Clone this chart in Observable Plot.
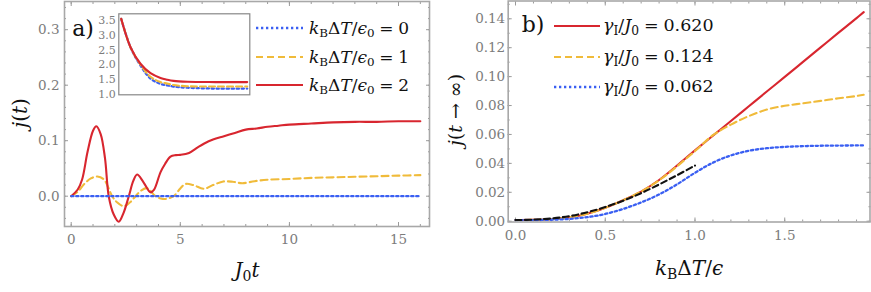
<!DOCTYPE html>
<html><head><meta charset="utf-8">
<script src="https://cdn.jsdelivr.net/npm/d3@7"></script>
<script src="https://cdn.jsdelivr.net/npm/@observablehq/plot@0.6"></script>
<style>
body{margin:0;background:#fff;}
#wrap{position:relative;width:871px;height:292px;overflow:hidden;background:#fff;font-family:"DejaVu Serif",serif;}
#wrap svg{position:absolute;}
.txt{position:absolute;white-space:nowrap;color:#111;line-height:1;}
.c{transform:translate(-50%,-50%);}
.l{transform:translateY(-50%);}
.rot{transform:translate(-50%,-50%) rotate(-90deg);}
i{font-style:italic;}
sub{font-size:0.7em;vertical-align:-0.28em;line-height:0;font-style:normal;}
.eq{margin:0 0.28em;}
</style></head><body><div id="wrap"></div>
<script>
// ---------- Panel a: j(t) vs J0 t ----------
const tRed = [0,0.3,0.5,0.75,1.0,1.15,1.35,1.55,1.72,1.95,2.18,2.4,2.64,2.85,3.02,3.3,3.63,3.8,4.09,4.3,4.55,4.8,5.0,5.4,5.8,6.1,6.5,7.0,7.5,8.0,8.5,9.0,9.5,10.0,11,12,13,14,15,16];
const jRed = [0,0.012,0.030,0.080,0.118,0.126,0.112,0.068,0,-0.033,-0.046,-0.030,0,0.028,0.039,0.026,0.007,0.012,0.043,0.058,0.0715,0.074,0.0745,0.078,0.088,0.095,0.102,0.108,0.114,0.120,0.122,0.125,0.127,0.129,0.131,0.133,0.134,0.134,0.135,0.135];
const tYel = [0,0.3,0.6,0.9,1.2,1.5,1.88,2.1,2.41,2.7,2.95,3.2,3.48,3.86,4.1,4.32,4.69,5.0,5.24,5.6,6.08,6.5,6.97,7.4,7.84,8.4,8.98,10,11,12,13,14,15,16];
const jYel = [0,0.008,0.022,0.032,0.0355,0.030,0,-0.011,-0.018,-0.011,0,0.010,0.0144,0,-0.004,-0.005,0,0.014,0.022,0.020,0.0133,0.020,0.0265,0.026,0.0234,0.027,0.0296,0.031,0.033,0.034,0.035,0.036,0.037,0.038];
const tBlue = [0,16];
const jBlue = [0,0];
const aXTicks = [0,5,10,15];
const aXMinor = [0,1,2,3,4,5,6,7,8,9,10,11,12,13,14,15,16];
const aYTicks = [0,0.1,0.2,0.3];
const aYMinor = [-0.04,-0.02,0,0.02,0.04,0.06,0.08,0.1,0.12,0.14,0.16,0.18,0.2,0.22,0.24,0.26,0.28,0.3,0.32,0.34];

// inset (panel a)
const tInset = [0,1.18,2.45,3.72,4.99,5.84,6.64,8.4,12,16];
const insRed = [3.56,2.60,2.04,1.72,1.56,1.50,1.46,1.43,1.42,1.42];
const insYel = [3.56,2.60,2.01,1.60,1.42,1.37,1.32,1.28,1.27,1.27];
const insBlue = [3.56,2.60,1.98,1.54,1.36,1.31,1.27,1.23,1.20,1.20];
const insYTicks = [1.0,1.5,2.0,2.5,3.0,3.5];

const legendA = ["0","1","2"];

// ---------- Panel b: j(t->inf) vs kB dT / eps ----------
const xB = [0,0.1,0.2,0.3,0.4,0.5,0.6,0.7,0.8,0.9,1.0,1.1,1.2,1.3,1.4,1.5,1.6,1.7,1.8,1.9,1.94];
const bRed = [0.0008,0.0009,0.0014,0.0027,0.0052,0.0093,0.0145,0.0205,0.0285,0.0385,0.049,0.0592,0.0693,0.0795,0.0897,0.0998,0.1100,0.1202,0.1304,0.1405,0.1446];
const bYel = [0.0008,0.0009,0.0014,0.0027,0.0052,0.0093,0.0145,0.0205,0.0283,0.038,0.0485,0.0595,0.0668,0.0727,0.0772,0.0798,0.0815,0.0832,0.0850,0.0866,0.0874];
const bBlue = [0.0008,0.0008,0.0010,0.0016,0.0028,0.0050,0.0085,0.0130,0.0185,0.0255,0.0335,0.0405,0.0455,0.0487,0.0505,0.0514,0.0519,0.0522,0.0523,0.0524,0.0524];
const xBlack = [0,0.1,0.2,0.3,0.4,0.5,0.6,0.7,0.8,0.9,1.0];
const bBlack = [0.0008,0.0011,0.0019,0.0035,0.0062,0.0098,0.0142,0.0194,0.0254,0.0318,0.0385];
const bXTicks = [0,0.5,1.0,1.5];
const bXMinor = [0,0.1,0.2,0.3,0.4,0.5,0.6,0.7,0.8,0.9,1.0,1.1,1.2,1.3,1.4,1.5,1.6,1.7,1.8,1.9];
const bYTicks = [0,0.02,0.04,0.06,0.08,0.10,0.12,0.14];
const bYMinor = [0,0.01,0.02,0.03,0.04,0.05,0.06,0.07,0.08,0.09,0.10,0.11,0.12,0.13,0.14,0.15];
const legendB = ["0.620","0.124","0.062"];

// ---------- styles ----------
const RED = "#d8262f", YEL = "#f0bb3a", BLUE = "#3a5ff2", BLACK = "#111";
const FRAME = "#a8a8a8", TICKC = "#7c7c7c";
const FONT = "DejaVu Serif";
const sty = {
  red:  {stroke:RED, strokeWidth:2.1},
  yel:  {stroke:YEL, strokeWidth:2.1, strokeDasharray:"7,4"},
  blue: {stroke:BLUE, strokeWidth:2.3, strokeDasharray:"2.3,2.7"},
  black:{stroke:BLACK, strokeWidth:2.1, strokeDasharray:"6,3.5"}
};
const rows = (xs, ys) => xs.map((x,i)=>({x, y:ys[i]}));
const wrap = document.getElementById("wrap");

function place(svg, left, top){ svg.style.left = left+"px"; svg.style.top = top+"px"; wrap.appendChild(svg); }
function inward(k, anchor, ticks, size){
  const ax = k === "x" ? Plot.axisX : Plot.axisY;
  return ax({anchor, ticks, tickSize:-size, tickFormat:()=>"", label:null, stroke:"#9a9a9a"});
}

// Panel a
const pa = Plot.plot({
  width:435, height:292, marginLeft:64, marginRight:6, marginTop:1, marginBottom:66,
  x:{domain:[-0.307,16.42]}, y:{domain:[-0.0546,0.3508]},
  style:{fontFamily:FONT, fontSize:"13.5px", color:TICKC, background:"transparent", overflow:"visible"},
  marks:[
    Plot.axisX({ticks:aXTicks, tickSize:0, tickPadding:8, label:null, tickFormat:d3.format("d")}),
    Plot.axisY({ticks:aYTicks, tickSize:0, tickPadding:5, label:null, tickFormat:d3.format(".1f")}),
    inward("x","bottom",aXMinor,2), inward("x","top",aXMinor,2),
    inward("x","bottom",aXTicks,4), inward("x","top",aXTicks,4),
    inward("y","left",aYMinor,2), inward("y","right",aYMinor,2),
    inward("y","left",aYTicks,4), inward("y","right",aYTicks,4),
    Plot.line(rows(tYel,jYel), {x:"x", y:"y", curve:"catmull-rom", ...sty.yel}),
    Plot.line(rows(tRed,jRed), {x:"x", y:"y", curve:"catmull-rom", ...sty.red}),
    Plot.line(rows(tBlue,jBlue), {x:"x", y:"y", ...sty.blue}),
    Plot.frame({stroke:FRAME, strokeWidth:1.6})
  ]
});
place(pa, 0, 0);

// Inset
const pi = Plot.plot({
  width:165, height:92, marginLeft:30.3, marginRight:3.7, marginTop:5.3, marginBottom:5.7,
  x:{domain:[-0.305,16.33], axis:null}, y:{domain:[0.99,3.73], axis:null},
  style:{fontFamily:FONT, fontSize:"11px", color:TICKC, background:"transparent", overflow:"visible"},
  marks:[
    Plot.frame({fill:"white"}),
    Plot.axisY({ticks:insYTicks, tickSize:0, tickPadding:3, label:null, tickFormat:d3.format(".1f")}),
    Plot.line(rows(tInset,insBlue), {x:"x", y:"y", curve:"catmull-rom", ...sty.blue}),
    Plot.line(rows(tInset,insYel), {x:"x", y:"y", curve:"catmull-rom", ...sty.yel, strokeDasharray:"6,3"}),
    Plot.line(rows(tInset,insRed), {x:"x", y:"y", curve:"catmull-rom", ...sty.red}),
    Plot.frame({stroke:"#888", strokeWidth:1.2})
  ]
});
place(pi, 88, 8);

// Panel b
const pb = Plot.plot({
  width:436, height:292, marginLeft:72.7, marginRight:1.5, marginTop:0.5, marginBottom:70.5,
  x:{domain:[-0.0407,1.975]}, y:{domain:[-0.00055,0.1523]},
  style:{fontFamily:FONT, fontSize:"13.5px", color:TICKC, background:"transparent", overflow:"visible"},
  marks:[
    Plot.axisX({ticks:bXTicks, tickSize:0, tickPadding:8, label:null, tickFormat:d3.format(".1f")}),
    Plot.axisY({ticks:bYTicks, tickSize:0, tickPadding:3, label:null, tickFormat:d3.format(".2f")}),
    inward("x","bottom",bXMinor,2), inward("x","top",bXMinor,2),
    inward("x","bottom",bXTicks,4), inward("x","top",bXTicks,4),
    inward("y","left",bYMinor,2), inward("y","right",bYMinor,2),
    inward("y","left",bYTicks,4), inward("y","right",bYTicks,4),
    Plot.line(rows(xB,bRed), {x:"x", y:"y", curve:"catmull-rom", ...sty.red}),
    Plot.line(rows(xB,bYel), {x:"x", y:"y", curve:"catmull-rom", ...sty.yel}),
    Plot.line(rows(xB,bBlue), {x:"x", y:"y", curve:"catmull-rom", ...sty.blue}),
    Plot.line(rows(xBlack,bBlack), {x:"x", y:"y", curve:"catmull-rom", ...sty.black}),
    Plot.frame({stroke:FRAME, strokeWidth:1.6})
  ]
});
place(pb, 435, 0);

// ---------- text & legends ----------
function addText(html, x, y, cls, size){
  const d = document.createElement("div");
  d.className = "txt " + cls;
  d.style.left = x+"px"; d.style.top = y+"px"; d.style.fontSize = size+"px";
  d.innerHTML = html;
  wrap.appendChild(d);
  return d;
}
function addSample(x0, x1, y, s){
  const svg = d3.create("svg").attr("width", x1-x0).attr("height", 10)
    .style("left", x0+"px").style("top", (y-5)+"px");
  svg.append("line").attr("x1",0).attr("x2",x1-x0).attr("y1",5).attr("y2",5)
    .attr("stroke", s.stroke).attr("stroke-width", s.strokeWidth)
    .attr("stroke-dasharray", s.strokeDasharray || null);
  wrap.appendChild(svg.node());
}
const legAStyles = [sty.blue, sty.yel, sty.red], legAY = [28, 56.7, 85];
legendA.forEach((v,i)=>{
  addSample(256, 303, legAY[i], legAStyles[i]);
  addText(`<i>k</i><sub>B</sub>Δ<i>T</i>/<i>ϵ</i><sub>0</sub><span class="eq">=</span>${v}`, 309, legAY[i], "l", 17);
});
const legBStyles = [sty.red, sty.yel, sty.blue], legBY = [26, 56.7, 86.7];
legendB.forEach((v,i)=>{
  addSample(554, 600, legBY[i], legBStyles[i]);
  addText(`<i>γ</i><sub>I</sub>/<i>J</i><sub>0</sub><span class="eq">=</span>${v}`, 603, legBY[i], "l", 17.5);
});
addText("a)", 83, 29, "c", 22);
addText("b)", 533, 25, "c", 22);
addText(`<i>J</i><sub>0</sub><i>t</i>`, 247, 270, "c", 20);
addText(`<i>k</i><sub>B</sub>Δ<i>T</i>/<i>ϵ</i>`, 689, 268, "c", 20);
addText(`<i>j</i>(<i>t</i>)`, 20, 113, "rot", 20);
addText(`<i>j</i>(<i>t</i> → ∞)`, 455, 110, "rot", 19);
</script></body></html>
